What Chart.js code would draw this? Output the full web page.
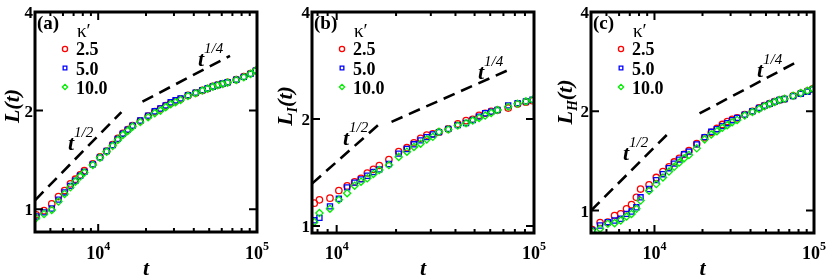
<!DOCTYPE html>
<html>
<head>
<meta charset="utf-8">
<script src="https://cdn.jsdelivr.net/npm/chart.js@4.4.1/dist/chart.umd.min.js"></script>
<style>
  html, body { margin: 0; padding: 0; background: #fff; }
  #wrap { position: relative; width: 830px; height: 278px; }
  #wrap canvas { position: absolute; left: 0; top: 0; }
</style>
</head>
<body>
<div id="wrap">
  <canvas id="chartA" width="830" height="278"></canvas>
  <canvas id="chartB" width="830" height="278"></canvas>
  <canvas id="chartC" width="830" height="278"></canvas>
</div>
<script>
// ---- data ----
const kappaLabels = ['2.5', '5.0', '10.0'];
const yTickValues = [1, 2, 4];
const xTickValues = [1e4, 1e5];

// sampling times shared by panels (a) and (c)
const times = [4070, 4560, 5100, 5620, 6140, 6680, 7180, 7700, 8180, 9250, 10260, 11300, 12330, 13290,
  14300, 15350, 16450, 18400, 20620, 22700, 24640, 26620, 28610, 30700, 33000, 36770, 41100, 45260,
  48900, 52700, 56600, 60700, 65300, 74000, 82600, 91000, 98300];
// panel (b) starts later
const timesB = [7700, 8180, 9250, 10260, 11300, 12330, 13290, 14300, 15350, 16450, 18400, 20620, 22700,
  24640, 26620, 28610, 30700, 33000, 36770, 41100, 45260, 48900, 52700, 56600, 60700, 65300, 74000,
  82600, 91000, 98300];

// (a) L(t)
const redA = [0.962, 0.99, 1.038, 1.093, 1.14, 1.195, 1.235, 1.273, 1.311, 1.375, 1.445, 1.505, 1.575, 1.645,
  1.705, 1.75, 1.80, 1.86, 1.925, 1.985, 2.025, 2.07, 2.11, 2.14, 2.17, 2.225, 2.265, 2.305, 2.335, 2.37,
  2.395, 2.415, 2.44, 2.485, 2.54, 2.595, 2.65];
const blueA = [0.95, 0.978, 1.005, 1.07, 1.125, 1.178, 1.222, 1.265, 1.30, 1.37, 1.44, 1.505, 1.57, 1.64,
  1.70, 1.75, 1.80, 1.865, 1.93, 1.99, 2.03, 2.075, 2.12, 2.15, 2.18, 2.23, 2.27, 2.31, 2.34, 2.37,
  2.395, 2.42, 2.44, 2.485, 2.535, 2.59, 2.65];
const greenA = [0.94, 0.967, 0.995, 1.055, 1.113, 1.167, 1.214, 1.258, 1.294, 1.365, 1.437, 1.499, 1.561, 1.628,
  1.686, 1.734, 1.787, 1.847, 1.909, 1.964, 2.0, 2.048, 2.092, 2.122, 2.156, 2.218, 2.26, 2.302, 2.334, 2.367,
  2.391, 2.413, 2.435, 2.481, 2.529, 2.589, 2.65];

// (b) L_I(t)
const redB = [1.159, 1.184, 1.197, 1.258, 1.296, 1.33, 1.361, 1.409, 1.442, 1.479, 1.537, 1.618, 1.66, 1.714,
  1.763, 1.801, 1.816, 1.836, 1.875, 1.937, 1.979, 1.996, 2.048, 2.075, 2.101, 2.119, 2.146, 2.202, 2.23, 2.25];
const blueB = [1.037, 1.053, 1.135, 1.192, 1.284, 1.324, 1.352, 1.384, 1.418, 1.442, 1.493, 1.597, 1.646, 1.697,
  1.741, 1.778, 1.809, 1.836, 1.875, 1.921, 1.949, 1.987, 2.031, 2.075, 2.097, 2.119, 2.184, 2.216, 2.241, 2.265];
const greenB = [1.026, 1.087, 1.118, 1.184, 1.236, 1.298, 1.332, 1.361, 1.40, 1.436, 1.483, 1.564, 1.618, 1.668,
  1.704, 1.752, 1.781, 1.84, 1.868, 1.917, 1.946, 1.979, 2.013, 2.044, 2.079, 2.119, 2.166, 2.207, 2.241, 2.265];

// (c) L_H(t)
const redC = [0.875, 0.92, 0.922, 0.966, 0.977, 1.012, 1.042, 1.097, 1.162, 1.197, 1.26, 1.313, 1.357, 1.404,
  1.441, 1.481, 1.519, 1.595, 1.663, 1.725, 1.774, 1.824, 1.862, 1.892, 1.91, 1.954, 2.0, 2.047, 2.08, 2.109,
  2.139, 2.163, 2.178, 2.229, 2.265, 2.302, 2.34];
const blueC = [0.871, 0.901, 0.922, 0.933, 0.944, 0.977, 0.993, 1.023, 1.097, 1.162, 1.237, 1.289, 1.344, 1.388,
  1.427, 1.481, 1.509, 1.587, 1.67, 1.733, 1.765, 1.803, 1.84, 1.879, 1.91, 1.954, 2.0, 2.047, 2.08, 2.109,
  2.139, 2.163, 2.178, 2.224, 2.26, 2.292, 2.329];
const greenC = [0.866, 0.881, 0.912, 0.916, 0.933, 0.959, 0.977, 1.012, 1.072, 1.149, 1.203, 1.26, 1.313, 1.357,
  1.398, 1.441, 1.474, 1.544, 1.644, 1.701, 1.741, 1.782, 1.815, 1.853, 1.883, 1.941, 1.991, 2.033, 2.071, 2.104,
  2.134, 2.163, 2.183, 2.229, 2.271, 2.308, 2.34];

// dashed guide lines: [t0, t1] and [L0, L1]
const halfA = { t: [4000, 14000], L: [1.065, 1.98] };
const quarterA = { t: [19000, 67600], L: [2.13, 2.94] };
const halfB = { t: [7500, 16200], L: [1.315, 1.92] };
const quarterB = { t: [18970, 77100], L: [1.963, 2.772] };
const halfC = { t: [4000, 12600], L: [1.0, 1.74] };
const quarterC = { t: [19170, 75700], L: [1.97, 2.80] };

// ---- drawing helpers ----
const SERIF = '"Liberation Serif", "Times New Roman", serif';
const f = (style, size) => `${style} ${size}px ${SERIF}`;
const colors = ['#ff0000', '#0000ff', '#00ee00'];
const styles = ['circle', 'rect', 'rectRot'];
const radii = [3.2, 3.6, 3.6];

function drawParts(ctx, x, y, parts, align) {
  let w = 0;
  parts.forEach(p => { ctx.font = p.font; p.w = ctx.measureText(p.text).width; w += p.w; });
  let cx = align === 'center' ? x - w / 2 : align === 'right' ? x - w : x;
  ctx.textAlign = 'left';
  ctx.textBaseline = 'alphabetic';
  parts.forEach(p => { ctx.font = p.font; ctx.fillText(p.text, cx, y + (p.dy || 0)); cx += p.w; });
}

function marker(ctx, i, x, y, r) {
  ctx.save();
  ctx.strokeStyle = colors[i];
  ctx.fillStyle = 'rgba(0,0,0,0)';
  ctx.lineWidth = 1.3;
  if (Chart.helpers && Chart.helpers.drawPoint) {
    Chart.helpers.drawPoint(ctx, { pointStyle: styles[i], radius: r, rotation: 0, borderWidth: 1.3 }, x, y);
  } else {
    ctx.beginPath(); ctx.arc(x, y, r, 0, Math.PI * 2); ctx.stroke();
  }
  ctx.restore();
}

const decorPlugin = {
  id: 'decor',
  afterDatasetsDraw(chart, args, o) {
    const ctx = chart.ctx, a = chart.chartArea;
    const xs = chart.scales.x, ys = chart.scales.y;
    ctx.save();
    ctx.fillStyle = '#000';
    ctx.strokeStyle = '#000';

    // ticks
    ctx.lineWidth = 2;
    ctx.beginPath();
    yTickValues.forEach(v => {
      const py = ys.getPixelForValue(v);
      if (py < a.top - 1 || py > a.bottom + 1) return;
      ctx.moveTo(a.left, py); ctx.lineTo(a.left + 8, py);
      ctx.moveTo(a.right, py); ctx.lineTo(a.right - 8, py);
    });
    [1e3, 1e4].forEach(dec => {
      for (let k = 1; k <= 9; k++) {
        const v = dec * k;
        if (v < xs.min || v > xs.max) continue;
        const px = xs.getPixelForValue(v);
        const len = k === 1 ? 8 : 4;
        ctx.moveTo(px, a.bottom); ctx.lineTo(px, a.bottom - len);
        ctx.moveTo(px, a.top); ctx.lineTo(px, a.top + len);
      }
    });
    ctx.stroke();

    // frame
    ctx.lineWidth = 3;
    ctx.strokeRect(a.left, a.top, a.right - a.left, a.bottom - a.top);

    // y tick labels
    ctx.font = f('bold', 17);
    ctx.textAlign = 'right';
    ctx.textBaseline = 'alphabetic';
    yTickValues.forEach(v => {
      const py = ys.getPixelForValue(v);
      if (py < a.top - 2 || py > a.bottom + 2) return;
      ctx.fillText(String(v), a.left - 2, py + 6);
    });

    // x tick labels 10^n
    xTickValues.forEach(v => {
      const px = xs.getPixelForValue(v);
      drawParts(ctx, px, 259, [
        { text: '10', font: f('bold', 18) },
        { text: String(Math.round(Math.log10(v))), font: f('bold', 12), dy: -9 }
      ], 'center');
    });

    // axis titles
    drawParts(ctx, (a.left + a.right) / 2, 275, [{ text: 't', font: f('italic bold', 22) }], 'center');
    ctx.save();
    ctx.translate(o.yTitleX, o.yTitleY);
    ctx.rotate(-Math.PI / 2);
    drawParts(ctx, 0, 0, o.yTitle, 'center');
    ctx.restore();

    // panel tag
    drawParts(ctx, a.left + 2, 29, [{ text: o.tag, font: f('bold', 19) }], 'left');

    // legend
    drawParts(ctx, a.left + 42, 37, [{ text: 'κ′', font: f('normal', 19) }], 'left');
    kappaLabels.forEach((lab, i) => {
      marker(ctx, i, a.left + 30, 49 + i * 19, 2.6);
      drawParts(ctx, a.left + 41, 55 + i * 19.5, [{ text: lab, font: f('bold', 18) }], 'left');
    });

    // power-law annotations
    o.notes.forEach(n => {
      drawParts(ctx, n.x, n.y, [
        { text: 't', font: f('italic bold', 22) },
        { text: n.exp, font: f('italic', 15), dy: -13 }
      ], 'left');
    });
    ctx.restore();
  }
};

function series(ts, vals) { return ts.map((t, i) => ({ x: t, y: vals[i] })); }
function guide(g) { return g.t.map((t, i) => ({ x: t, y: g.L[i] })); }

function makePanel(p) {
  const pointSets = p.values.map((vals, i) => ({
    label: kappaLabels[i],
    data: series(p.times, vals),
    pointStyle: styles[i],
    pointRadius: radii[i],
    pointBorderWidth: 1.3,
    pointBorderColor: colors[i],
    pointBackgroundColor: 'rgba(0,0,0,0)',
    showLine: false,
    order: 3 - i
  }));
  const lineSets = p.guides.map(g => ({
    data: guide(g),
    showLine: true,
    borderColor: '#000',
    borderWidth: 2.6,
    borderDash: [12, 7],
    pointRadius: 0,
    order: 0
  }));
  new Chart(document.getElementById(p.id), {
    type: 'scatter',
    data: { datasets: pointSets.concat(lineSets) },
    options: {
      responsive: false,
      animation: false,
      devicePixelRatio: 1,
      layout: { padding: { left: p.area[0], top: p.area[1], right: 830 - p.area[2], bottom: 278 - p.area[3] } },
      scales: {
        x: { type: 'logarithmic', min: p.xRange[0], max: p.xRange[1], display: false },
        y: { type: 'logarithmic', min: p.yRange[0], max: p.yRange[1], display: false }
      },
      plugins: {
        legend: { display: false },
        tooltip: { enabled: false },
        decor: p.decor
      }
    },
    plugins: [decorPlugin]
  });
}

const titleFont = f('italic bold', 22);
const subFont = f('italic bold', 14);

makePanel({
  id: 'chartA', area: [35, 12, 257, 232], xRange: [4000, 1e5], yRange: [0.852, 4],
  times: times, values: [redA, blueA, greenA], guides: [halfA, quarterA],
  decor: {
    tag: '(a)', yTitleX: 19, yTitleY: 106,
    yTitle: [{ text: 'L(t)', font: titleFont }],
    notes: [{ x: 68, y: 150, exp: '1/2' }, { x: 198, y: 66, exp: '1/4' }]
  }
});
makePanel({
  id: 'chartB', area: [312, 12, 534, 233], xRange: [7500, 1e5], yRange: [0.955, 4],
  times: timesB, values: [redB, blueB, greenB], guides: [halfB, quarterB],
  decor: {
    tag: '(b)', yTitleX: 292, yTitleY: 106,
    yTitle: [{ text: 'L', font: titleFont }, { text: 'I', font: subFont, dy: 5 }, { text: '(t)', font: titleFont }],
    notes: [{ x: 343, y: 145, exp: '1/2' }, { x: 478, y: 79, exp: '1/4' }]
  }
});
makePanel({
  id: 'chartC', area: [591, 12, 814, 233], xRange: [4000, 1e5], yRange: [0.855, 4],
  times: times, values: [redC, blueC, greenC], guides: [halfC, quarterC],
  decor: {
    tag: '(c)', yTitleX: 572, yTitleY: 102,
    yTitle: [{ text: 'L', font: titleFont }, { text: 'H', font: subFont, dy: 5 }, { text: '(t)', font: titleFont }],
    notes: [{ x: 623, y: 160, exp: '1/2' }, { x: 757, y: 77, exp: '1/4' }]
  }
});
</script>
</body>
</html>
